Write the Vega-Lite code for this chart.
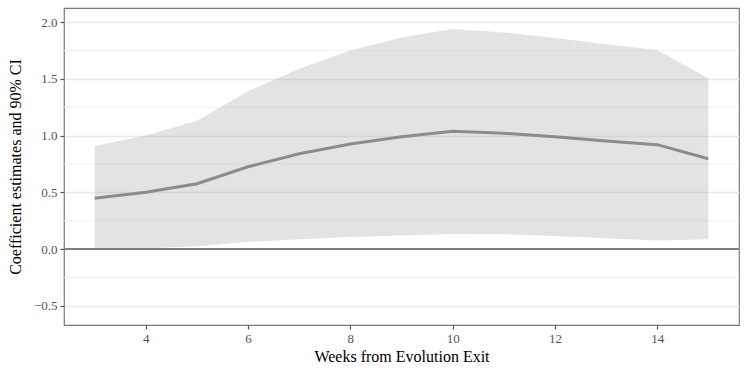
{
  "$schema": "https://vega.github.io/schema/vega-lite/v6.json",
  "width": 675,
  "height": 317,
  "autosize": {"type": "none"},
  "padding": {"left": 64, "top": 8, "right": 8, "bottom": 49},
  "background": "white",
  "config": {
    "font": "Liberation Serif",
    "view": {"stroke": "#7a7a7a", "strokeWidth": 1.2},
    "axis": {
      "domain": false,
      "tickColor": "#555555",
      "tickSize": 4,
      "tickWidth": 1.2,
      "labelFont": "Liberation Serif",
      "labelFontSize": 13,
      "labelColor": "#555555",
      "titleFont": "Liberation Serif",
      "titleFontSize": 16,
      "titleFontWeight": "normal",
      "titleColor": "#000000"
    }
  },
  "datasets": {
    "ci": [
      {"week": 3, "est": 0.447, "lo": 0.0, "hi": 0.908},
      {"week": 4, "est": 0.50, "lo": 0.005, "hi": 1.0},
      {"week": 5, "est": 0.575, "lo": 0.025, "hi": 1.13},
      {"week": 6, "est": 0.725, "lo": 0.062, "hi": 1.39},
      {"week": 7, "est": 0.84, "lo": 0.085, "hi": 1.59},
      {"week": 8, "est": 0.925, "lo": 0.105, "hi": 1.75},
      {"week": 9, "est": 0.99, "lo": 0.12, "hi": 1.865},
      {"week": 10, "est": 1.038, "lo": 0.132, "hi": 1.94},
      {"week": 11, "est": 1.02, "lo": 0.13, "hi": 1.91},
      {"week": 12, "est": 0.99, "lo": 0.115, "hi": 1.86},
      {"week": 13, "est": 0.952, "lo": 0.095, "hi": 1.805},
      {"week": 14, "est": 0.92, "lo": 0.075, "hi": 1.755},
      {"week": 15, "est": 0.796, "lo": 0.085, "hi": 1.505}
    ],
    "minor": [
      {"g": -0.25}, {"g": 0.25}, {"g": 0.75}, {"g": 1.25}, {"g": 1.75}
    ]
  },
  "layer": [
    {
      "data": {"name": "minor"},
      "mark": {"type": "rule", "color": "#f2f2f2", "strokeWidth": 1},
      "encoding": {"y": {"field": "g", "type": "quantitative"}}
    },
    {
      "data": {"name": "ci"},
      "mark": {"type": "area", "color": "#b3b3b3", "opacity": 0.37},
      "encoding": {
        "x": {
          "field": "week", "type": "quantitative",
          "scale": {"domain": [2.4, 15.6], "nice": false, "zero": false},
          "axis": {
            "values": [4, 6, 8, 10, 12, 14],
            "grid": false,
            "labelFont": "Liberation Serif",
            "title": "Weeks from Evolution Exit",
            "titlePadding": 3,
            "labelPadding": 3
          }
        },
        "y": {
          "field": "lo", "type": "quantitative",
          "scale": {"domain": [-0.67, 2.125], "nice": false, "zero": false},
          "axis": {
            "values": [-0.5, 0, 0.5, 1, 1.5, 2],
            "format": ".1f",
            "labelFont": "Liberation Serif",
            "labelExpr": "replace(datum.label, '-', '− ')",
            "grid": true,
            "gridColor": "#e8e8e8",
            "gridWidth": 1.3,
            "title": "Coefficient estimates and 90% CI",
            "titlePadding": 10,
            "labelPadding": 3
          }
        },
        "y2": {"field": "hi"}
      }
    },
    {
      "data": {"name": "ci"},
      "mark": {"type": "rule", "color": "#808080", "strokeWidth": 1.5},
      "encoding": {"y": {"datum": 0, "type": "quantitative"}}
    },
    {
      "data": {"name": "ci"},
      "mark": {"type": "line", "color": "#8c8c8c", "strokeWidth": 3},
      "encoding": {
        "x": {"field": "week", "type": "quantitative"},
        "y": {"field": "est", "type": "quantitative"}
      }
    }
  ]
}
